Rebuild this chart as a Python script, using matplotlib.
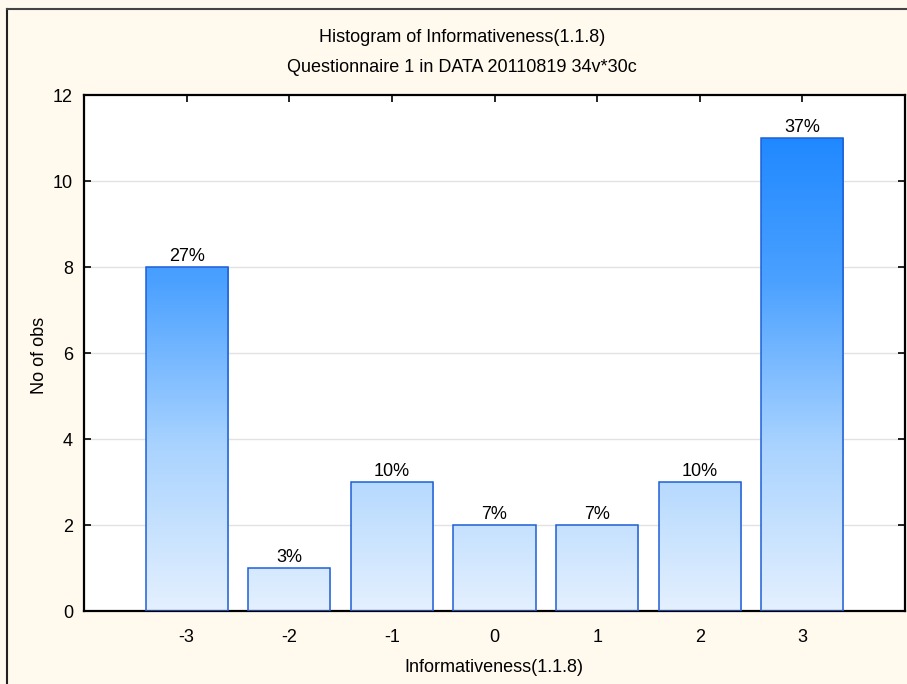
import numpy as np
import matplotlib
matplotlib.use("Agg")
import matplotlib.pyplot as plt
from matplotlib.colors import LinearSegmentedColormap
from matplotlib.patches import Rectangle

categories = [-3, -2, -1, 0, 1, 2, 3]
counts = [8, 1, 3, 2, 2, 3, 11]
tick_labels = ["-3", "-2", "-1", "0", "1", "2", "3"]
y_ticks = [0, 2, 4, 6, 8, 10, 12]

title_main = "Histogram of Informativeness(1.1.8)"
title_sub = "Questionnaire 1 in DATA 20110819 34v*30c"
x_title = "Informativeness(1.1.8)"
y_title = "No of obs"

plt.rcParams["font.family"] = ["Liberation Sans", "DejaVu Sans"]

total = sum(counts)
fig = plt.figure(figsize=(9.07, 6.84), dpi=100, facecolor="#FFF9EE")
ax = fig.add_axes([84 / 907, 1 - 611 / 684, (905 - 84) / 907, (611 - 95) / 684])
ax.set_facecolor("white")

ax.set_xlim(-4, 4)
ax.set_ylim(0, 12)

# horizontal grid
for yv in y_ticks[1:-1]:
    ax.axhline(yv, color="#E2E2E2", lw=1, zorder=0)

# vertical gradient fill, darker with height
cmap = LinearSegmentedColormap.from_list(
    "bars", ["#E4F0FE", "#A9D3FF", "#4BA1FF", "#1A85FF"])
grad = np.linspace(0, 1, 256).reshape(-1, 1)
width = 0.8
for x, c in zip(categories, counts):
    x0 = x - width / 2
    im = ax.imshow(grad, extent=[x0, x0 + width, 0, 11.5], origin="lower",
                   cmap=cmap, aspect="auto", zorder=2, interpolation="bilinear")
    rect = Rectangle((x0, 0), width, c, facecolor="none",
                     edgecolor="#1F5FD6", lw=1.1, zorder=3)
    ax.add_patch(rect)
    im.set_clip_path(rect)
    pct = int(round(100 * c / total))
    ax.text(x, c + 0.05, f"{pct}%", ha="center", va="bottom",
            fontsize=13, color="black", zorder=4)

ax.set_xlim(-4, 4)
ax.set_ylim(0, 12)
ax.set_xticks(categories)
ax.set_xticklabels(tick_labels)
ax.set_yticks(y_ticks)
ax.tick_params(direction="in", length=5, width=1.2, labelsize=13,
               top=True, right=True, pad=13)
ax.tick_params(axis="y", pad=8)
for s in ax.spines.values():
    s.set_linewidth(1.6)
    s.set_color("black")

fig.text(462 / 907, 1 - 38 / 684, title_main, ha="center", va="center", fontsize=13)
fig.text(462 / 907, 1 - 68 / 684, title_sub, ha="center", va="center", fontsize=13)
fig.text(494 / 907, 1 - 667 / 684, x_title, ha="center", va="center", fontsize=13)
fig.text(40 / 907, 1 - 355 / 684, y_title, ha="center", va="center",
         rotation=90, fontsize=13)

# window frame
fig.add_artist(plt.Line2D([7 / 907, 7 / 907], [0, 1 - 9 / 684],
                          transform=fig.transFigure, color="#222222", lw=1.5))
fig.add_artist(plt.Line2D([7 / 907, 1], [1 - 9 / 684, 1 - 9 / 684],
                          transform=fig.transFigure, color="#444444", lw=1.5))

fig.savefig("out.png", dpi=100, facecolor=fig.get_facecolor())
